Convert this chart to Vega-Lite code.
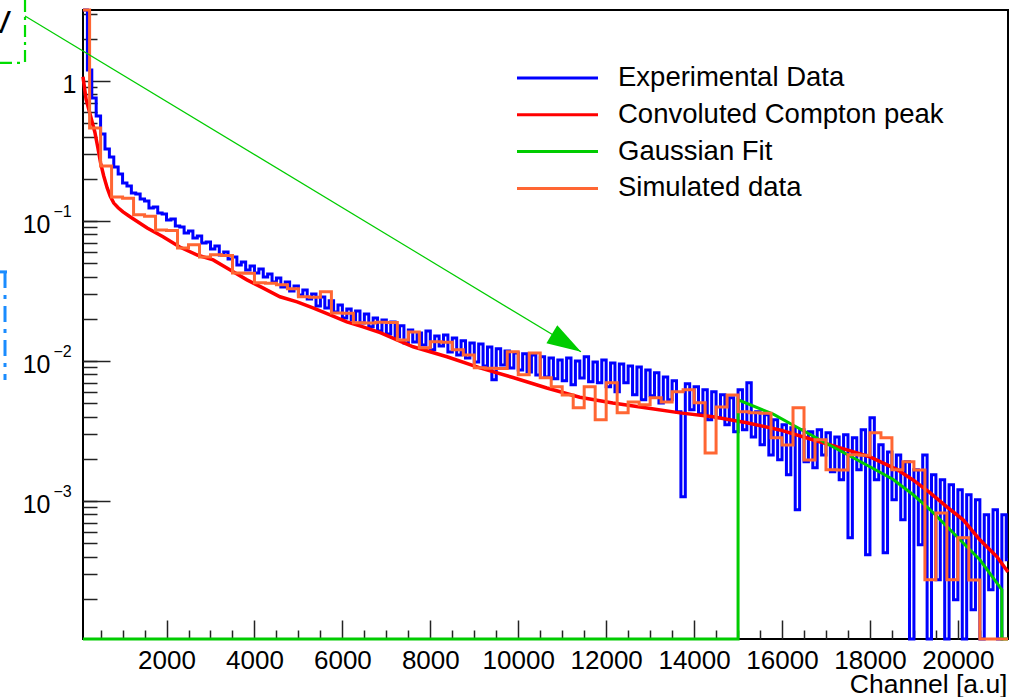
{
"$schema": "https://vega.github.io/schema/vega-lite/v6.json",
"width": 925, "height": 629,
"autosize": {"type": "none"},
"padding": {"left": 83, "top": 10, "right": 12, "bottom": 58},
"background": "white",
"config": {"view": {"stroke": "#000", "strokeWidth": 2}, "font": "Liberation Sans"},
"resolve": {"axis": {"x": "independent", "y": "independent"}},
"datasets": {
"blue": [{"x":100,"v":3.21},{"x":200,"v":1.198},{"x":300,"v":0.7557},{"x":400,"v":0.5621},{"x":500,"v":0.4181},{"x":600,"v":0.3267},{"x":700,"v":0.2863},{"x":800,"v":0.2429},{"x":900,"v":0.2165},{"x":1000,"v":0.1867},{"x":1100,"v":0.1778},{"x":1200,"v":0.1584},{"x":1300,"v":0.1558},{"x":1400,"v":0.1435},{"x":1500,"v":0.1389},{"x":1600,"v":0.1238},{"x":1700,"v":0.1258},{"x":1800,"v":0.114},{"x":1900,"v":0.1122},{"x":2000,"v":0.1016},{"x":2100,"v":0.1033},{"x":2200,"v":0.09205},{"x":2300,"v":0.09055},{"x":2400,"v":0.08205},{"x":2500,"v":0.0848},{"x":2600,"v":0.07557},{"x":2700,"v":0.0781},{"x":2800,"v":0.06961},{"x":2900,"v":0.07077},{"x":3000,"v":0.06308},{"x":3100,"v":0.06627},{"x":3200,"v":0.05714},{"x":3300,"v":0.06003},{"x":3400,"v":0.0535},{"x":3500,"v":0.05529},{"x":3600,"v":0.04847},{"x":3700,"v":0.05092},{"x":3800,"v":0.04465},{"x":3900,"v":0.04768},{"x":4000,"v":0.0425},{"x":4100,"v":0.04539},{"x":4200,"v":0.03979},{"x":4300,"v":0.0418},{"x":4400,"v":0.03665},{"x":4500,"v":0.03914},{"x":4600,"v":0.03376},{"x":4700,"v":0.03665},{"x":4800,"v":0.03161},{"x":4900,"v":0.03432},{"x":5000,"v":0.02959},{"x":5100,"v":0.03213},{"x":5200,"v":0.02771},{"x":5300,"v":0.03008},{"x":5400,"v":0.0247},{"x":5500,"v":0.02863},{"x":5600,"v":0.0239},{"x":5700,"v":0.02682},{"x":5800,"v":0.02237},{"x":5900,"v":0.02511},{"x":6000,"v":0.02027},{"x":6100,"v":0.02351},{"x":6200,"v":0.01962},{"x":6300,"v":0.02274},{"x":6400,"v":0.01867},{"x":6500,"v":0.02165},{"x":6600,"v":0.01749},{"x":6700,"v":0.02027},{"x":6800,"v":0.01637},{"x":6900,"v":0.01962},{"x":7000,"v":0.01558},{"x":7100,"v":0.01898},{"x":7200,"v":0.01483},{"x":7300,"v":0.01778},{"x":7400,"v":0.01344},{"x":7500,"v":0.01664},{"x":7600,"v":0.01366},{"x":7700,"v":0.01584},{"x":7800,"v":0.013},{"x":7900,"v":0.01637},{"x":8000,"v":0.01198},{"x":8100,"v":0.01508},{"x":8200,"v":0.01279},{"x":8300,"v":0.01533},{"x":8400,"v":0.01159},{"x":8500,"v":0.01459},{"x":8600,"v":0.01103},{"x":8700,"v":0.01389},{"x":8800,"v":0.0105},{"x":8900,"v":0.01344},{"x":9000,"v":0.00983},{"x":9100,"v":0.01322},{"x":9200,"v":0.009205},{"x":9300,"v":0.01258},{"x":9400,"v":0.007314},{"x":9500,"v":0.01218},{"x":9600,"v":0.009357},{"x":9700,"v":0.01178},{"x":9800,"v":0.008907},{"x":9900,"v":0.0114},{"x":10000,"v":0.00862},{"x":10100,"v":0.01122},{"x":10200,"v":0.00834},{"x":10300,"v":0.01103},{"x":10400,"v":0.007939},{"x":10500,"v":0.01068},{"x":10600,"v":0.007682},{"x":10700,"v":0.0105},{"x":10800,"v":0.007434},{"x":10900,"v":0.01016},{"x":11000,"v":0.007195},{"x":11100,"v":0.0105},{"x":11200,"v":0.006736},{"x":11300,"v":0.009994},{"x":11400,"v":0.007557},{"x":11500,"v":0.01068},{"x":11600,"v":0.007077},{"x":11700,"v":0.00983},{"x":11800,"v":0.006961},{"x":11900,"v":0.01016},{"x":12000,"v":0.006518},{"x":12100,"v":0.00967},{"x":12200,"v":0.006003},{"x":12300,"v":0.009513},{"x":12400,"v":0.006961},{"x":12500,"v":0.009205},{"x":12600,"v":0.005714},{"x":12700,"v":0.009055},{"x":12800,"v":0.005263},{"x":12900,"v":0.00862},{"x":13000,"v":0.005621},{"x":13100,"v":0.008205},{"x":13200,"v":0.005009},{"x":13300,"v":0.007682},{"x":13400,"v":0.005263},{"x":13500,"v":0.007195},{"x":13600,"v":0.00432},{"x":13700,"v":0.001068},{"x":13800,"v":0.006848},{"x":13900,"v":0.004465},{"x":14000,"v":0.006518},{"x":14100,"v":0.004181},{"x":14200,"v":0.006204},{"x":14300,"v":0.003788},{"x":14400,"v":0.006003},{"x":14500,"v":0.003915},{"x":14600,"v":0.005714},{"x":14700,"v":0.003489},{"x":14800,"v":0.005439},{"x":14900,"v":0.003109},{"x":15000,"v":0.006204},{"x":15100,"v":0.003213},{"x":15200,"v":0.006961},{"x":15300,"v":0.002863},{"x":15400,"v":0.00432},{"x":15500,"v":0.002511},{"x":15600,"v":0.004112},{"x":15700,"v":0.002129},{"x":15800,"v":0.003788},{"x":15900,"v":0.001962},{"x":16000,"v":0.003489},{"x":16100,"v":0.001533},{"x":16200,"v":0.003321},{"x":16300,"v":0.000862},{"x":16400,"v":0.003213},{"x":16500,"v":0.001898},{"x":16600,"v":0.003109},{"x":16700,"v":0.00172},{"x":16800,"v":0.003213},{"x":16900,"v":0.002129},{"x":17000,"v":0.003058},{"x":17100,"v":0.00161},{"x":17200,"v":0.002863},{"x":17300,"v":0.001412},{"x":17400,"v":0.002959},{"x":17500,"v":0.0005439},{"x":17600,"v":0.002817},{"x":17700,"v":0.001664},{"x":17800,"v":0.003213},{"x":17900,"v":0.0004112},{"x":18000,"v":0.003915},{"x":18100,"v":0.001412},{"x":18200,"v":0.002511},{"x":18300,"v":0.000425},{"x":18400,"v":0.002237},{"x":18500,"v":0.001016},{"x":18600,"v":0.002129},{"x":18700,"v":0.0007314},{"x":18800,"v":0.001898},{"x":18900,"v":0.000103},{"x":19000,"v":0.001664},{"x":19100,"v":0.0004847},{"x":19200,"v":0.002129},{"x":19300,"v":0.000103},{"x":19400,"v":0.001533},{"x":19500,"v":0.0002726},{"x":19600,"v":0.001412},{"x":19700,"v":0.000103},{"x":19800,"v":0.0013},{"x":19900,"v":0.0001962},{"x":20000,"v":0.001198},{"x":20100,"v":0.000103},{"x":20200,"v":0.001103},{"x":20300,"v":0.0001664},{"x":20400,"v":0.001016},{"x":20500,"v":0.000103},{"x":20600,"v":0.000794},{"x":20700,"v":0.0002312},{"x":20800,"v":0.000862},{"x":20900,"v":0.000103},{"x":21000,"v":0.000794},{"x":21100,"v":0.0003788},{"x":21140,"v":0.0003788}],
"red": [{"x":100,"v":1.07},{"x":170,"v":0.74},{"x":260,"v":0.58},{"x":370,"v":0.43},{"x":440,"v":0.33},{"x":500,"v":0.26},{"x":570,"v":0.21},{"x":650,"v":0.172},{"x":720,"v":0.15},{"x":800,"v":0.134},{"x":900,"v":0.124},{"x":1010,"v":0.116},{"x":1170,"v":0.107},{"x":1560,"v":0.089},{"x":1920,"v":0.077},{"x":2300,"v":0.065},{"x":2700,"v":0.057},{"x":3060,"v":0.0526},{"x":3440,"v":0.0447},{"x":3830,"v":0.0379},{"x":4190,"v":0.0332},{"x":4580,"v":0.0287},{"x":4970,"v":0.0264},{"x":5330,"v":0.0239},{"x":5720,"v":0.0213},{"x":6100,"v":0.019},{"x":6470,"v":0.0175},{"x":6860,"v":0.0159},{"x":7240,"v":0.0141},{"x":7610,"v":0.0126},{"x":8380,"v":0.0107},{"x":9130,"v":0.0089},{"x":9880,"v":0.0076},{"x":10650,"v":0.0064},{"x":11400,"v":0.0055},{"x":12150,"v":0.005},{"x":12930,"v":0.0046},{"x":13680,"v":0.00425},{"x":14430,"v":0.00398},{"x":15200,"v":0.00361},{"x":15950,"v":0.00321},{"x":16700,"v":0.00273},{"x":17480,"v":0.00231},{"x":18000,"v":0.00206},{"x":18620,"v":0.00167},{"x":18980,"v":0.00141},{"x":19370,"v":0.00114},{"x":19750,"v":0.000906},{"x":20120,"v":0.000731},{"x":20500,"v":0.000527},{"x":20890,"v":0.000398},{"x":21140,"v":0.00031}],
"green": [{"i":0,"x":100,"v":0.000103},{"i":1,"x":15000,"v":0.000103},{"i":2,"x":15000,"v":0.00527},{"i":3,"x":15800,"v":0.00416},{"i":4,"x":16330,"v":0.00337},{"i":5,"x":16860,"v":0.00273},{"i":6,"x":17470,"v":0.00215},{"i":7,"x":18000,"v":0.00175},{"i":8,"x":18530,"v":0.00142},{"i":9,"x":18990,"v":0.0011},{"i":10,"x":19370,"v":0.000863},{"i":11,"x":19750,"v":0.000656},{"i":12,"x":20120,"v":0.0005},{"i":13,"x":20500,"v":0.000379},{"i":14,"x":21000,"v":0.000232},{"i":15,"x":21000,"v":0.000103},{"i":16,"x":21140,"v":0.000103}],
"orange": [{"x":100,"v":3.21},{"x":250,"v":0.4616},{"x":500,"v":0.2471},{"x":750,"v":0.1484},{"x":1000,"v":0.145},{"x":1250,"v":0.1104},{"x":1500,"v":0.108},{"x":1750,"v":0.0862},{"x":2000,"v":0.0855},{"x":2250,"v":0.0641},{"x":2500,"v":0.0674},{"x":2750,"v":0.0553},{"x":3000,"v":0.0572},{"x":3250,"v":0.0565},{"x":3500,"v":0.0425},{"x":3750,"v":0.0422},{"x":4000,"v":0.0361},{"x":4250,"v":0.0358},{"x":4500,"v":0.0349},{"x":4750,"v":0.0327},{"x":5000,"v":0.0287},{"x":5250,"v":0.0285},{"x":5500,"v":0.0311},{"x":5750,"v":0.022},{"x":6000,"v":0.0219},{"x":6250,"v":0.0187},{"x":6500,"v":0.0186},{"x":6750,"v":0.0189},{"x":7000,"v":0.0188},{"x":7250,"v":0.0141},{"x":7500,"v":0.0161},{"x":7750,"v":0.0124},{"x":8000,"v":0.0137},{"x":8250,"v":0.0136},{"x":8500,"v":0.012},{"x":8750,"v":0.011},{"x":9000,"v":0.00891},{"x":9250,"v":0.00885},{"x":9500,"v":0.0088},{"x":9750,"v":0.0116},{"x":10000,"v":0.00794},{"x":10250,"v":0.0114},{"x":10500,"v":0.00756},{"x":10750,"v":0.00652},{"x":11000,"v":0.00571},{"x":11250,"v":0.00462},{"x":11500,"v":0.00652},{"x":11750,"v":0.00379},{"x":12000,"v":0.00697},{"x":12250,"v":0.00425},{"x":12500,"v":0.00509},{"x":12750,"v":0.00485},{"x":13000,"v":0.00544},{"x":13250,"v":0.00509},{"x":13500,"v":0.00601},{"x":13750,"v":0.00621},{"x":14000,"v":0.00501},{"x":14250,"v":0.0022},{"x":14500,"v":0.00469},{"x":14750,"v":0.00571},{"x":15000,"v":0.00432},{"x":15250,"v":0.00425},{"x":15500,"v":0.00423},{"x":15750,"v":0.00282},{"x":16000,"v":0.00251},{"x":16250,"v":0.00462},{"x":16500,"v":0.00196},{"x":16750,"v":0.00273},{"x":17000,"v":0.00167},{"x":17250,"v":0.00166},{"x":17500,"v":0.00213},{"x":17750,"v":0.00212},{"x":18000,"v":0.00306},{"x":18250,"v":0.00282},{"x":18500,"v":0.00167},{"x":18750,"v":0.0019},{"x":19000,"v":0.00166},{"x":19250,"v":0.000273},{"x":19500,"v":0.00082},{"x":19750,"v":0.000273},{"x":20000,"v":0.000544},{"x":20250,"v":0.000272},{"x":20500,"v":0.000103},{"x":20750,"v":0.000103},{"x":21000,"v":0.000103},{"x":21140,"v":0.000103}],
"arrow": [{"x":-1219,"y":2.913,"x2":11427,"y2":0.0116}],
"head": [{"x":11427,"y":0.0116}],
"greenbox": [{"x":-1219,"y":3.79,"x2":-1219,"y2":1.345},{"x":-1788,"y":1.345,"x2":-1219,"y2":1.345}],
"bluebox": [{"x":-1674,"y":0.0432,"x2":-1674,"y2":0.00731},{"x":-1788,"y":0.0432,"x2":-1629,"y2":0.0432}],
"note": [{"x":-1538,"y":2.202,"t":"V"}]
},
"layer": [
{"data": {"name": "blue"},
 "mark": {"type": "line", "interpolate": "step-after", "strokeWidth": 3, "clip": false},
 "encoding": {
  "x": {"field": "x", "type": "quantitative", "scale": {"domain": [100, 21140], "nice": false, "zero": false},
   "axis": {"orient": "bottom", "values": [2000,4000,6000,8000,10000,12000,14000,16000,18000,20000], "tickSize": -19, "tickWidth": 1.5, "tickColor": "#222", "domain": false, "grid": false, "labelFont": "Liberation Sans", "labelFontSize": 26, "labelColor": "#000", "labelPadding": 27, "labelOverlap": false, "labelFlush": false, "labelBound": false, "format": "d", "title": "Channel [a.u]", "titleFont": "Liberation Sans", "titleFontSize": 26.5, "titleFontWeight": "normal", "titleColor": "#000", "titleAnchor": "end", "titleAlign": "right", "titleBaseline": "alphabetic", "titleX": 924, "titleY": 53}},
  "y": {"field": "v", "type": "quantitative", "scale": {"type": "log", "domain": [0.000103, 3.21], "nice": false},
   "axis": {"orient": "left", "values": [0.001, 0.01, 0.1, 1], "tickSize": -27, "tickWidth": 1.5, "tickColor": "#222", "domain": false, "grid": false, "labelExpr": "datum.value == 1 ? '1' : '10'", "labelFont": "Liberation Sans", "labelFontSize": 25, "labelColor": "#000", "labelPadding": {"condition": {"test": "datum.value == 1", "value": 34}, "value": 60}, "labelOffset": 4, "labelOverlap": false, "labelBound": false, "labelFlush": false, "title": null}},
  "color": {"datum": "Experimental Data", "type": "nominal",
   "scale": {"domain": ["Experimental Data", "Convoluted Compton peak", "Gaussian Fit", "Simulated data"], "range": ["#0000ff", "#ff0000", "#00cc00", "#ff6633"]},
   "legend": {"orient": "none", "legendX": 460.75, "legendY": 54.25, "title": null, "symbolType": "M-4,0H4", "symbolSize": 410, "symbolStrokeWidth": 3, "symbolFillColor": "transparent", "labelFont": "Liberation Sans", "labelFontSize": 27.5, "labelColor": "#000", "labelOffset": 46.75, "rowPadding": 7.8, "padding": 0, "offset": 0, "labelLimit": 0}}
 }},
{"data": {"name": "red"},
 "mark": {"type": "line", "strokeWidth": 3.5, "clip": false},
 "encoding": {
  "x": {"field": "x", "type": "quantitative", "scale": {"domain": [100, 21140], "nice": false, "zero": false},
   "axis": {"orient": "bottom", "values": [500,1000,1500,2500,3000,3500,4500,5000,5500,6500,7000,7500,8500,9000,9500,10500,11000,11500,12500,13000,13500,14500,15000,15500,16500,17000,17500,18500,19000,19500,20500,21000], "tickSize": -9, "tickWidth": 1.5, "tickColor": "#222", "domain": false, "grid": false, "labels": false, "title": null}},
  "y": {"field": "v", "type": "quantitative", "scale": {"type": "log", "domain": [0.000103, 3.21], "nice": false},
   "axis": {"orient": "left", "values": [0.0002,0.0003,0.0004,0.0005,0.0006,0.0007,0.0008,0.0009,0.001,0.002,0.003,0.004,0.005,0.006,0.007,0.008,0.009,0.01,0.02,0.03,0.04,0.05,0.06,0.07,0.08,0.09,0.1,0.2,0.3,0.4,0.5,0.6,0.7,0.8,0.9,2,3], "tickSize": -14, "tickWidth": 1.5, "tickColor": "#222", "domain": false, "grid": false, "labelExpr": "datum.value == 0.1 ? '−1' : datum.value == 0.01 ? '−2' : datum.value == 0.001 ? '−3' : ''", "labelFont": "Liberation Sans", "labelFontSize": 16, "labelColor": "#000", "labelAlign": "left", "labelPadding": 44, "labelOffset": -9, "labelOverlap": false, "labelBound": false, "labelFlush": false, "title": null}},
  "color": {"datum": "Convoluted Compton peak", "type": "nominal"}
 }},
{"data": {"name": "green"},
 "mark": {"type": "line", "strokeWidth": 3, "clip": false},
 "encoding": {
  "x": {"field": "x", "type": "quantitative", "scale": {"domain": [100, 21140], "nice": false, "zero": false}, "axis": null},
  "y": {"field": "v", "type": "quantitative", "scale": {"type": "log", "domain": [0.000103, 3.21], "nice": false}, "axis": null},
  "order": {"field": "i", "type": "quantitative"},
  "color": {"datum": "Gaussian Fit", "type": "nominal"}
 }},
{"data": {"name": "orange"},
 "mark": {"type": "line", "interpolate": "step-after", "strokeWidth": 3, "clip": false},
 "encoding": {
  "x": {"field": "x", "type": "quantitative", "scale": {"domain": [100, 21140], "nice": false, "zero": false}, "axis": null},
  "y": {"field": "v", "type": "quantitative", "scale": {"type": "log", "domain": [0.000103, 3.21], "nice": false}, "axis": null},
  "color": {"datum": "Simulated data", "type": "nominal"}
 }},
{"data": {"name": "arrow"},
 "mark": {"type": "rule", "color": "#00cc00", "strokeWidth": 1.2, "clip": false},
 "encoding": {
  "x": {"field": "x", "type": "quantitative", "scale": {"domain": [100, 21140], "nice": false, "zero": false}, "axis": null},
  "y": {"field": "y", "type": "quantitative", "scale": {"type": "log", "domain": [0.000103, 3.21], "nice": false}, "axis": null},
  "x2": {"field": "x2"}, "y2": {"field": "y2"}
 }},
{"data": {"name": "head"},
 "mark": {"type": "point", "shape": "M0,0L-2,-0.62L-2,0.62Z", "size": 1156, "angle": 31, "filled": true, "color": "#00cc00", "opacity": 1, "strokeWidth": 0, "clip": false},
 "encoding": {
  "x": {"field": "x", "type": "quantitative", "scale": {"domain": [100, 21140], "nice": false, "zero": false}, "axis": null},
  "y": {"field": "y", "type": "quantitative", "scale": {"type": "log", "domain": [0.000103, 3.21], "nice": false}, "axis": null}
 }},
{"data": {"name": "greenbox"},
 "mark": {"type": "rule", "color": "#00dd00", "strokeWidth": 2.2, "strokeDash": [12, 5, 3, 5], "clip": false},
 "encoding": {
  "x": {"field": "x", "type": "quantitative", "scale": {"domain": [100, 21140], "nice": false, "zero": false}, "axis": null},
  "y": {"field": "y", "type": "quantitative", "scale": {"type": "log", "domain": [0.000103, 3.21], "nice": false}, "axis": null},
  "x2": {"field": "x2"}, "y2": {"field": "y2"}
 }},
{"data": {"name": "bluebox"},
 "mark": {"type": "rule", "color": "#1a8cff", "strokeWidth": 3, "strokeDash": [16, 7, 4, 7], "clip": false},
 "encoding": {
  "x": {"field": "x", "type": "quantitative", "scale": {"domain": [100, 21140], "nice": false, "zero": false}, "axis": null},
  "y": {"field": "y", "type": "quantitative", "scale": {"type": "log", "domain": [0.000103, 3.21], "nice": false}, "axis": null},
  "x2": {"field": "x2"}, "y2": {"field": "y2"}
 }},
{"data": {"name": "note"},
 "mark": {"type": "text", "font": "Liberation Sans", "fontSize": 32, "align": "right", "baseline": "alphabetic", "color": "#000", "clip": false},
 "encoding": {
  "x": {"field": "x", "type": "quantitative", "scale": {"domain": [100, 21140], "nice": false, "zero": false}, "axis": null},
  "y": {"field": "y", "type": "quantitative", "scale": {"type": "log", "domain": [0.000103, 3.21], "nice": false}, "axis": null},
  "text": {"field": "t"}
 }}
]
}
